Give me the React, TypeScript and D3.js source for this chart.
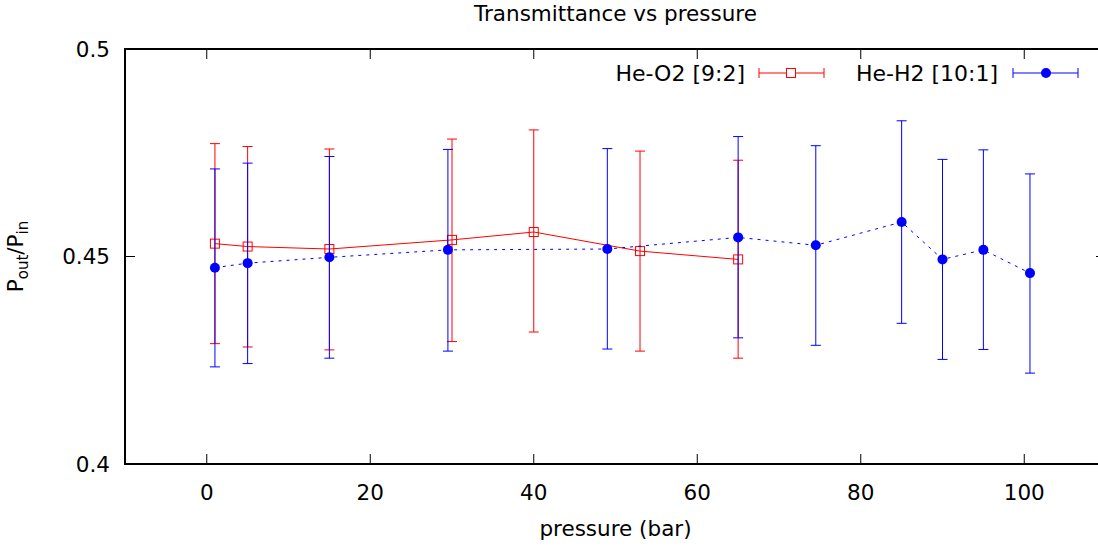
import React from "react";
import * as d3 from "d3";

// He-O2 [9:2]
const pressureO2 = [1, 5, 15, 30, 40, 53, 65];
const meanO2 = [0.4531, 0.4524, 0.4518, 0.454, 0.4559, 0.4513, 0.4493];
const lowO2 = [0.429, 0.4282, 0.4275, 0.4295, 0.4318, 0.4272, 0.4255];
const highO2 = [0.4772, 0.4765, 0.4759, 0.4783, 0.4805, 0.4754, 0.4732];

// He-H2 [10:1]
const pressureH2 = [1, 5, 15, 29.5, 49, 65, 74.5, 85, 90, 95, 100.7];
const meanH2 = [0.4473, 0.4484, 0.4498, 0.4516, 0.4518, 0.4546, 0.4527, 0.4583, 0.4493, 0.4516, 0.446];
const lowH2 = [0.4234, 0.4242, 0.4255, 0.4272, 0.4277, 0.4304, 0.4286, 0.4339, 0.4252, 0.4276, 0.4219];
const highH2 = [0.4711, 0.4725, 0.4741, 0.4758, 0.476, 0.4789, 0.4767, 0.4827, 0.4734, 0.4757, 0.4699];

const xTicks = [0, 20, 40, 60, 80, 100];
const yTicks = [0.4, 0.45, 0.5];
const yTickLabels = ["0.4", "0.45", "0.5"];

const W = 1098,
  H = 549;
const margin = { top: 49, right: -8, bottom: 85, left: 125 };
const font = "'DejaVu Sans', Verdana, sans-serif";
const fs = 21.5;

const App = () => {
  const x = d3.scaleLinear().domain([-10, 110]).range([margin.left, W - margin.right]);
  const y = d3.scaleLinear().domain([0.4, 0.5]).range([H - margin.bottom, margin.top]);
  const [x0, x1] = x.range();
  const [y0, y1] = y.range();

  const o2 = pressureO2.map((p, i) => ({ p, v: meanO2[i], lo: lowO2[i], hi: highO2[i] }));
  const h2 = pressureH2.map((p, i) => ({ p, v: meanH2[i], lo: lowH2[i], hi: highH2[i] }));

  const line = d3
    .line<{ p: number; v: number }>()
    .x((d) => x(d.p))
    .y((d) => y(d.v));

  const cap = 5;
  const errBars = (data: typeof o2, color: string) =>
    data.map((d, i) => (
      <g key={i} stroke={color} strokeWidth={1}>
        <line x1={x(d.p)} x2={x(d.p)} y1={y(d.lo)} y2={y(d.hi)} />
        <line x1={x(d.p) - cap} x2={x(d.p) + cap} y1={y(d.lo)} y2={y(d.lo)} />
        <line x1={x(d.p) - cap} x2={x(d.p) + cap} y1={y(d.hi)} y2={y(d.hi)} />
      </g>
    ));

  const legY = 73;

  return (
    <svg
      width={W}
      height={H}
      style={{ position: "absolute", left: 0, top: 0, background: "#fff" }}
      fontFamily={font}
    >
      <text x={(x0 + x1) / 2} y={21} textAnchor="middle" fontSize={fs}>
        Transmittance vs pressure
      </text>

      {/* ticks */}
      <g stroke="#000" strokeWidth={1}>
        {xTicks.map((t) => (
          <g key={t}>
            <line x1={x(t)} x2={x(t)} y1={y0} y2={y0 - 10} />
            <line x1={x(t)} x2={x(t)} y1={y1} y2={y1 + 10} />
          </g>
        ))}
        {yTicks.map((t) => (
          <g key={t}>
            <line x1={x0} x2={x0 + 10} y1={y(t)} y2={y(t)} />
            <line x1={x1} x2={x1 - 10} y1={y(t)} y2={y(t)} />
          </g>
        ))}
      </g>
      <rect
        x={x0}
        y={y1}
        width={x1 - x0}
        height={y0 - y1}
        fill="none"
        stroke="#000"
        strokeWidth={2}
      />

      {xTicks.map((t) => (
        <text key={t} x={x(t)} y={500} textAnchor="middle" fontSize={fs}>
          {t}
        </text>
      ))}
      {yTicks.map((t, i) => (
        <text key={t} x={110} y={y(t)} dy="0.36em" textAnchor="end" fontSize={fs}>
          {yTickLabels[i]}
        </text>
      ))}

      <text x={(x0 + x1) / 2} y={536} textAnchor="middle" fontSize={fs}>
        pressure (bar)
      </text>
      <text transform={`translate(23,${(y0 + y1) / 2}) rotate(-90)`} textAnchor="middle" fontSize={fs}>
        P<tspan dy={5} fontSize={15}>out</tspan>
        <tspan dy={-5}>/P</tspan>
        <tspan dy={5} fontSize={15}>in</tspan>
      </text>

      {/* He-O2 */}
      {errBars(o2, "#ff0000")}
      <path d={line(o2) ?? ""} fill="none" stroke="#ff0000" strokeWidth={1} />
      {o2.map((d, i) => (
        <rect
          key={i}
          x={x(d.p) - 4.5}
          y={y(d.v) - 4.5}
          width={9}
          height={9}
          fill="none"
          stroke="#ff0000"
          strokeWidth={1}
        />
      ))}

      {/* He-H2 */}
      {errBars(h2, "#0000ff")}
      <path d={line(h2) ?? ""} fill="none" stroke="#0000ff" strokeWidth={1} strokeDasharray="3,5" />
      {h2.map((d, i) => (
        <circle key={i} cx={x(d.p)} cy={y(d.v)} r={5} fill="#0000ff" />
      ))}

      {/* legend */}
      <text x={745} y={legY} dy="0.36em" textAnchor="end" fontSize={22}>
        He-O2 [9:2]
      </text>
      <g stroke="#ff0000" strokeWidth={1}>
        <line x1={759} x2={824} y1={legY} y2={legY} />
        <line x1={759} x2={759} y1={legY - 5} y2={legY + 5} />
        <line x1={824} x2={824} y1={legY - 5} y2={legY + 5} />
        <rect x={791 - 4.5} y={legY - 4.5} width={9} height={9} fill="#fff" />
      </g>
      <text x={998} y={legY} dy="0.36em" textAnchor="end" fontSize={22}>
        He-H2 [10:1]
      </text>
      <g stroke="#0000ff" strokeWidth={1}>
        <line x1={1013} x2={1078} y1={legY} y2={legY} />
        <line x1={1013} x2={1013} y1={legY - 5} y2={legY + 5} />
        <line x1={1078} x2={1078} y1={legY - 5} y2={legY + 5} />
      </g>
      <circle cx={1046} cy={legY} r={5} fill="#0000ff" />
    </svg>
  );
};

export default App;
